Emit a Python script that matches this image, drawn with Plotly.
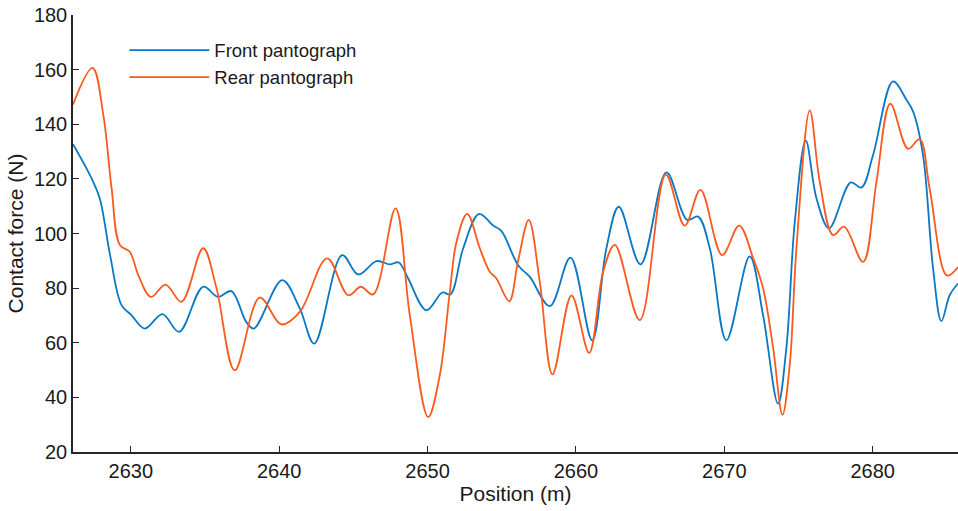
import plotly.graph_objects as go

# Front pantograph (blue) - key points
front_pos = [2626.1, 2627.35, 2627.9, 2628.6, 2629.37, 2630.04, 2630.94, 2632.13, 2633.25,
             2634.87, 2635.87, 2636.77, 2637.78, 2638.29, 2640.2, 2641.39, 2642.36, 2644.24,
             2645.32, 2646.56, 2647.45, 2648.06, 2648.69, 2649.92, 2651.0, 2651.54, 2652.4,
             2653.47, 2654.42, 2654.98, 2656.1, 2656.89, 2658.24, 2659.63, 2661.09, 2662.05,
             2662.89, 2664.35, 2666.1, 2667.49, 2668.23, 2669.02, 2670.14, 2671.71, 2672.61,
             2673.62, 2674.18, 2674.75, 2675.49, 2676.21, 2677.06, 2678.52, 2679.24, 2680.03,
             2681.37, 2682.27, 2682.72, 2683.39, 2684.07, 2684.63, 2685.19, 2685.75]
front_force = [132.7, 120.2, 112.9, 92.1, 73.8, 70.1, 65.2, 70.5, 64.0,
               80.5, 76.8, 78.9, 67.6, 65.2, 82.9, 72.5, 59.7, 92.1,
               85.0, 89.9, 88.7, 89.4, 83.5, 71.9, 78.4, 77.7, 94.6,
               107.2, 102.9, 100.9, 88.4, 84.1, 73.4, 91.2, 60.9, 94.6,
               109.8, 88.7, 122.4, 105.0, 106.2, 94.6, 60.9, 91.6, 70.1,
               37.7, 58.0, 104.3, 134.0, 112.9, 101.9, 118.7, 116.8, 128.8,
               155.7, 149.0, 144.7, 128.8, 87.2, 67.9, 77.4, 81.7]

# Rear pantograph (orange)
rear_pos = [2626.1, 2627.42, 2628.14, 2628.7, 2629.26, 2629.93, 2630.5, 2631.35, 2632.34,
            2633.41, 2634.87, 2635.77, 2637.0, 2638.69, 2640.15, 2641.39, 2643.23, 2644.65,
            2645.5, 2646.33, 2647.84, 2648.8, 2650.04, 2650.82, 2651.5, 2651.95, 2652.67,
            2653.52, 2654.19, 2654.64, 2655.5, 2656.1, 2656.82, 2657.56, 2658.42, 2659.7,
            2660.89, 2661.83, 2662.62, 2664.3, 2666.05, 2667.33, 2668.39, 2669.85, 2671.0,
            2671.94, 2672.61, 2673.29, 2673.92, 2674.41, 2674.86, 2675.76, 2676.43, 2677.33,
            2678.07, 2679.35, 2680.25, 2681.19, 2682.38, 2683.17, 2683.84, 2685.01, 2685.75]
rear_force = [147.2, 160.6, 143.5, 116.6, 95.8, 93.3, 84.8, 76.8, 81.3,
              75.0, 94.6, 80.0, 49.9, 76.5, 66.7, 71.3, 90.9, 77.4,
              80.5, 77.7, 109.2, 70.1, 32.8, 48.1, 78.7, 97.0, 107.2,
              94.6, 86.0, 83.5, 75.2, 90.0, 105.0, 82.3, 48.4, 77.3,
              56.3, 86.0, 95.8, 68.3, 121.6, 102.9, 116.0, 92.1, 102.9,
              91.0, 80.0, 58.0, 33.6, 52.0, 94.6, 145.1, 119.0, 99.4,
              102.5, 89.6, 118.8, 147.5, 131.0, 134.5, 116.4, 84.6, 87.7]

x_ticks = [2630, 2640, 2650, 2660, 2670, 2680]
y_ticks = [20, 40, 60, 80, 100, 120, 140, 160, 180]

FONT = "Liberation Sans, Arial, sans-serif"
AX = "#262626"

fig = go.Figure()
fig.add_trace(go.Scatter(x=front_pos, y=front_force, mode="lines", name="Front pantograph",
                         line=dict(color="#0A78C4", width=1.8, shape="spline", smoothing=1.0)))
fig.add_trace(go.Scatter(x=rear_pos, y=rear_force, mode="lines", name="Rear pantograph",
                         line=dict(color="#FA5A1E", width=1.8, shape="spline", smoothing=1.0)))

fig.update_layout(
    width=958, height=511,
    margin=dict(l=73, r=0, t=15, b=59),
    paper_bgcolor="white", plot_bgcolor="white",
    font=dict(family=FONT, size=19, color="#1a1a1a"),
    showlegend=True,
    legend=dict(x=0.058, y=0.962, xanchor="left", yanchor="top",
                bgcolor="rgba(0,0,0,0)", borderwidth=0,
                font=dict(family=FONT, size=18.5, color="#1a1a1a"),
                itemwidth=80, tracegroupgap=0),
    xaxis=dict(range=[2626.1, 2685.75], tickvals=x_ticks, ticks="inside", ticklen=6,
               tickcolor=AX, tickwidth=1.2, showline=True, linecolor=AX, linewidth=1.5,
               showgrid=False, zeroline=False, mirror=False,
               title=dict(text="Position (m)", font=dict(size=21), standoff=5),
               tickfont=dict(size=20)),
    yaxis=dict(range=[20, 180], tickvals=y_ticks, ticks="inside", ticklen=6,
               tickcolor=AX, tickwidth=1.2, showline=True, linecolor=AX, linewidth=1.5,
               showgrid=False, zeroline=False, mirror=False,
               title=dict(text="Contact force (N)", font=dict(size=21), standoff=5),
               tickfont=dict(size=20)),
)

fig.write_html("out.html")
